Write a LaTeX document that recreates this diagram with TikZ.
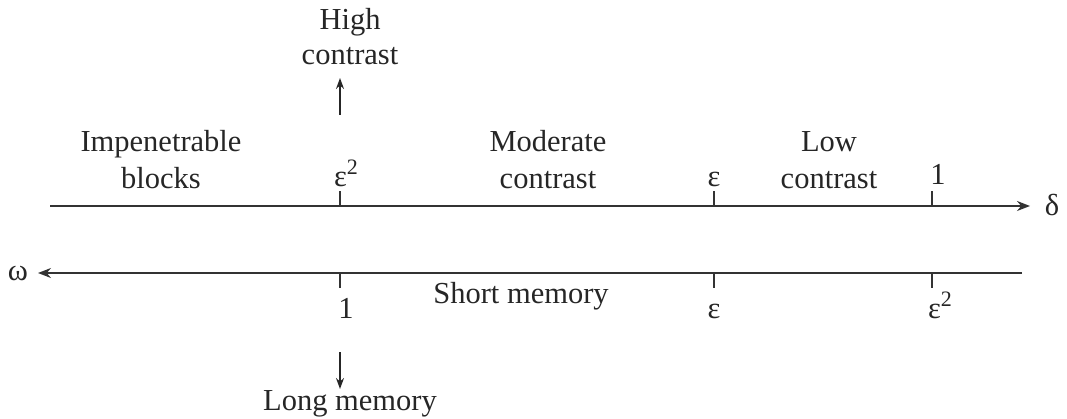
\documentclass[tikz,border=0pt]{standalone}
\usepackage{fontspec}
\setmainfont{Liberation Serif}
\usetikzlibrary{arrows.meta}
\begin{document}
\begin{tikzpicture}[x=1pt,y=-1pt,
  axis/.style={line width=1.5pt,draw=black!80},
  tick/.style={line width=1.3pt,draw=black!80},
  lbl/.style={inner sep=0pt,anchor=base,align=center,font=\fontsize{30.5}{38}\selectfont,text=black!85},
  sym/.style={inner sep=0pt,anchor=base,font=\fontsize{30.5}{38}\selectfont,text=black!85},
  arr/.style={line width=1.4pt,draw=black!85,-{Stealth[length=11pt,width=8pt]}}]
\useasboundingbox (0,0) rectangle (1067,419);
% top axis (delta)
\coordinate (ts) at (50,206);
\coordinate (te) at (1030,206);
\draw[axis,-{Stealth[length=13pt,width=10pt]}] (ts) -- (te);
\node[sym] (delta) at (1052,216) {δ};
\coordinate (t1a) at (340,206); \coordinate (t1b) at (340,191);
\coordinate (t2a) at (714,206); \coordinate (t2b) at (714,191);
\coordinate (t3a) at (932,206); \coordinate (t3b) at (932,191);
\draw[tick] (t1a) -- (t1b);
\draw[tick] (t2a) -- (t2b);
\draw[tick] (t3a) -- (t3b);
\node[sym] (e2t) at (346,187) {ε\raisebox{0.42em}{\fontsize{22}{22}\selectfont 2}};
\node[sym] (et) at (714,187) {ε};
\node[sym] (onet) at (938,185) {1};
\node[lbl] (imp) at (161,152) {Impenetrable};
\node[lbl] (blk) at (161,189) {blocks};
\node[lbl] (mod) at (548,152) {Moderate};
\node[lbl] (modc) at (548,189) {contrast};
\node[lbl] (low) at (829,152) {Low};
\node[lbl] (lowc) at (829,189) {contrast};
\node[lbl] (high) at (350,30) {High};
\node[lbl] (highc) at (350,65) {contrast};
\coordinate (hu) at (340,115);
\draw[arr] (hu) -- (340,78);
% bottom axis (omega)
\coordinate (bs) at (1022,273);
\coordinate (be) at (38,273);
\draw[axis,-{Stealth[length=13pt,width=10pt]}] (bs) -- (be);
\node[sym] (omega) at (18,281) {ω};
\coordinate (b1a) at (340,273); \coordinate (b1b) at (340,288);
\coordinate (b2a) at (714,273); \coordinate (b2b) at (714,288);
\coordinate (b3a) at (932,273); \coordinate (b3b) at (932,288);
\draw[tick] (b1a) -- (b1b);
\draw[tick] (b2a) -- (b2b);
\draw[tick] (b3a) -- (b3b);
\node[sym] (oneb) at (346,318) {1};
\node[lbl] (short) at (521,303) {Short memory};
\node[sym] (eb) at (714,319) {ε};
\node[sym] (e2b) at (940,319) {ε\raisebox{0.42em}{\fontsize{22}{22}\selectfont 2}};
\node[lbl] (long) at (350,410) {Long memory};
\coordinate (ld) at (340,352);
\draw[arr] (ld) -- (340,389);
\end{tikzpicture}
\end{document}
